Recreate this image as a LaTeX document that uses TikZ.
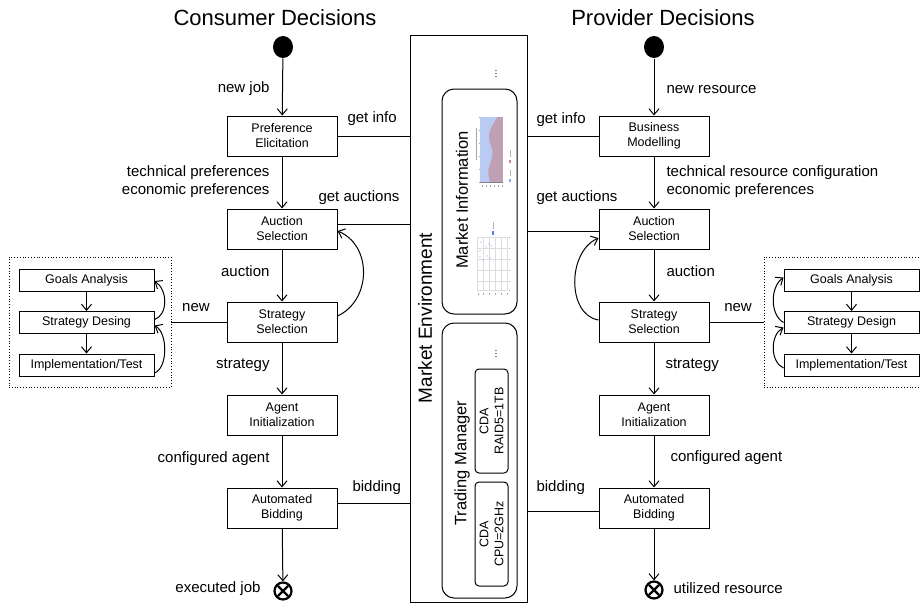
\documentclass[tikz,border=0pt]{standalone}
\usepackage{fontspec}
\setmainfont{Liberation Sans}
\usetikzlibrary{arrows.meta,shapes.geometric}
\newcommand\boxfont{\fontsize{12.5}{15}\selectfont}
\newcommand\lblfont{\fontsize{15}{18}\selectfont}
\newcommand\titlefont{\fontsize{22}{26}\selectfont}
\definecolor{chartblue}{HTML}{B9CBF2}
\definecolor{chartred}{HTML}{BFA0B4}
\definecolor{chartgrid}{HTML}{DDDDDD}
\definecolor{dotblue}{HTML}{5A7BE0}
\begin{document}
\begin{tikzpicture}[x=1pt,y=-1pt,line width=1pt,
  stepbox/.style={draw,minimum width=110pt,minimum height=40pt,align=center,font=\boxfont,inner sep=0pt},
  subbox/.style={draw,minimum width=135pt,minimum height=22pt,font=\boxfont,inner sep=0pt},
  frame/.style={draw,dotted,line width=0.8pt,inner sep=0pt},
  lbl/.style={font=\lblfont,inner sep=0pt},
  arr/.style={-{Straight Barb[length=6pt,width=10pt]}},
  startdot/.style={fill=black,ellipse,minimum width=20pt,minimum height=22pt,inner sep=0pt},
  enddot/.style={draw,circle,line width=2.2pt,minimum size=17pt,inner sep=0pt,
    append after command={(\tikzlastnode.north west) edge[line width=2.2pt,shorten <=2.5pt,shorten >=2.5pt] (\tikzlastnode.south east)
      (\tikzlastnode.north east) edge[line width=2.2pt,shorten <=2.5pt,shorten >=2.5pt] (\tikzlastnode.south west)}},
  rbox/.style={draw,rounded corners=12pt,inner sep=0pt},
  cdabox/.style={draw,rounded corners=4pt,minimum width=33pt,minimum height=104pt,inner sep=0pt},
]
\useasboundingbox (0,0) rectangle (920,608);

% titles
\node[font=\titlefont] (tcons) at (275,18) {Consumer Decisions};
\node[font=\titlefont] (tprov) at (663,18) {Provider Decisions};

% ---------- market environment ----------
\node[draw,minimum width=117pt,minimum height=567pt,inner sep=0pt] (env) at (468.5,318.5) {};
\node[rotate=90,font=\fontsize{19}{22}\selectfont] (envl) at (425,318) {Market Environment};

\node[rbox,minimum width=75pt,minimum height=225pt] (mi) at (479.5,201.5) {};
\node[rotate=90,font=\fontsize{16.5}{20}\selectfont] (mil) at (462,200) {Market Information};
\node[rotate=90,font=\fontsize{10}{12}\selectfont] (mid) at (496,74) {...};

\node[rbox,minimum width=75pt,minimum height=275pt] (tm) at (479.5,460.5) {};
\node[rotate=90,font=\fontsize{16.5}{20}\selectfont] (tml) at (462,463) {Trading Manager};
\node[rotate=90,font=\fontsize{10}{12}\selectfont] (tmd) at (496,354) {...};
\node[cdabox] (cda1) at (491.5,421) {};
\node[rotate=90,align=center,font=\boxfont] (cda1l) at (491.5,421) {CDA\\RAID5=1TB};
\node[cdabox] (cda2) at (491.5,534) {};
\node[rotate=90,align=center,font=\boxfont] (cda2l) at (491.5,534) {CDA\\CPU=2GHz};

% small price chart (area)
\fill[chartred] (480,117) rectangle (503,182);
\fill[chartblue] (480,117) -- (497,117) .. controls (493,125) and (488,130) .. (489,138)
  .. controls (490,146) and (494,150) .. (492,157) .. controls (490,165) and (486,170) .. (490,182) -- (480,182) -- cycle;
\draw[gray,line width=0.3pt] (480,182) -- (503,182);
\foreach \yy in {117,130,143,156,169,182} \draw[gray!70,line width=0.3pt] (478.5,\yy) -- (479.5,\yy);
\foreach \xx in {482,486,490,494,498,502} \draw[gray!70,line width=0.4pt] (\xx,185) -- (\xx,187);
\draw[gray!70,line width=0.4pt] (476,128) -- (476,160);
\fill[chartred!80!red] (509,160) rectangle (511,163);
\draw[gray!60,line width=0.3pt] (510,150) -- (510,157);
\fill[dotblue!70] (509,179) rectangle (511,182);
\draw[gray!60,line width=0.3pt] (510,170) -- (510,176);

% small scatter chart
\foreach \xx in {477,483,489,495,501,507} \draw[chartgrid,line width=0.3pt] (\xx,237) -- (\xx,290);
\foreach \yy in {237,248,259,270,281,290} \draw[chartgrid,line width=0.3pt] (477,\yy) -- (507,\yy);
\foreach \yy in {237,248,259,270,281,290} \draw[gray!70,line width=0.4pt] (509,\yy) -- (510,\yy);
\foreach \xx in {478,483,489,495,501,507} \draw[gray!70,line width=0.4pt] (\xx,293) -- (\xx,295);
\fill[dotblue] (492,231) rectangle (494,235);
\draw[gray!60,line width=0.3pt] (493,222) -- (493,229);
\foreach \px/\py in {481/242, 480/251, 486/247, 489/244, 491/246, 487/256, 483/260, 490/258, 480/257} \fill[dotblue!80] (\px,\py) circle (0.6pt);

% ---------- consumer side ----------
\node[startdot] (cs) at (283,47) {};
\node[stepbox] (pe) at (282,136) {Preference\\Elicitation};
\node[stepbox] (as) at (282,229) {Auction\\Selection};
\node[stepbox] (ss) at (282,322) {Strategy\\Selection};
\node[stepbox] (ai) at (282,415) {Agent\\Initialization};
\node[stepbox] (ab) at (282,508) {Automated\\Bidding};
\node[enddot] (ce) at (283,591) {};

\draw[arr] (cs) -- (pe);
\draw[arr] (pe) -- (as);
\draw[arr] (as) -- (ss);
\draw[arr] (ss) -- (ai);
\draw[arr] (ai) -- (ab);
\draw[arr] (ab) -- (ce);
\draw[arr] ([yshift=6pt]ss.east) .. controls (372,300) and (372,245) .. ([yshift=-2pt]as.east);

\node[lbl,anchor=east] (l1) at (270,89) {new job};
\node[lbl,anchor=east,align=right] (l2) at (270,182) {technical preferences\\economic preferences};
\node[lbl,anchor=east] (l3) at (270,271) {auction};
\node[lbl,anchor=east] (l4) at (270,365) {strategy};
\node[lbl,anchor=east] (l5) at (270,459) {configured agent};
\node[lbl,anchor=east] (l6) at (261,589) {executed job};

\draw (pe.east) -- (pe.east -| env.west);
\draw ([yshift=5pt]as.east) -- ([yshift=5pt]as.east -| env.west);
\draw ([yshift=5pt]ab.east) -- ([yshift=5pt]ab.east -| env.west);
\node[lbl,anchor=west] (g1) at (347,119) {get info};
\node[lbl,anchor=west] (g2) at (318,198) {get auctions};
\node[lbl,anchor=west] (g3) at (352,488) {bidding};

% consumer strategy design sub-process
\node[frame,minimum width=162pt,minimum height=130pt] (lfr) at (90,322) {};
\node[subbox] (ga) at (86.5,280) {Goals Analysis};
\node[subbox] (sd) at (86.5,322.5) {Strategy Desing};
\node[subbox] (it) at (86.5,365) {Implementation/Test};
\draw[arr] (ga) -- (sd);
\draw[arr] (sd) -- (it);
\draw[arr] ([yshift=3pt]sd.east) .. controls (168,315) and (168,290) .. ([yshift=-1pt]ga.east);
\draw[arr] ([yshift=-8pt]it.east) .. controls (168,368) and (168,333) .. ([yshift=-3pt]sd.east);
\draw (ss.west) -- (ss.west -| lfr.east);
\node[lbl] (n1) at (196,308) {new};

% ---------- provider side ----------
\node[startdot] (ps) at (654,47) {};
\node[stepbox] (bm) at (654,136) {Business\\Modelling};
\node[stepbox] (as2) at (654,229) {Auction\\Selection};
\node[stepbox] (ss2) at (654,322) {Strategy\\Selection};
\node[stepbox] (ai2) at (654,415) {Agent\\Initialization};
\node[stepbox] (ab2) at (654,508) {Automated\\Bidding};
\node[enddot] (pend) at (654,590) {};

\draw[arr] (ps) -- (bm);
\draw[arr] (bm) -- (as2);
\draw[arr] (as2) -- (ss2);
\draw[arr] (ss2) -- (ai2);
\draw[arr] (ai2) -- (ab2);
\draw[arr] (ab2) -- (pend);
\draw[arr] ([yshift=2pt]ss2.west) .. controls (567,315) and (567,252) .. ([yshift=-9pt]as2.west);

\node[lbl,anchor=west] (r1) at (666,90) {new resource};
\node[lbl,anchor=west,align=left] (r2) at (666,182) {technical resource configuration\\economic preferences};
\node[lbl,anchor=west] (r3) at (666,271) {auction};
\node[lbl,anchor=west] (r4) at (665,365) {strategy};
\node[lbl,anchor=west] (r5) at (670,458) {configured agent};
\node[lbl,anchor=west] (r6) at (673,588) {utilized resource};

\draw (bm.west) -- (bm.west -| env.east);
\draw ([yshift=-2pt]as2.west) -- ([yshift=-2pt]as2.west -| env.east);
\draw ([yshift=-3pt]ab2.west) -- ([yshift=-3pt]ab2.west -| env.east);
\node[lbl,anchor=west] (h1) at (536,120) {get info};
\node[lbl,anchor=west] (h2) at (536,198) {get auctions};
\node[lbl,anchor=west] (h3) at (536,488) {bidding};

% provider strategy design sub-process (frame runs past the right page edge)
\node[frame,minimum width=162pt,minimum height=130pt] (rfr) at (845,322) {};
\node[subbox] (ga2) at (851.5,280.5) {Goals Analysis};
\node[subbox] (sd2) at (851.5,322.5) {Strategy Design};
\node[subbox] (it2) at (851.5,365) {Implementation/Test};
\draw[arr] (ga2) -- (sd2);
\draw[arr] (sd2) -- (it2);
\draw[arr] ([yshift=0pt]sd2.west) .. controls (770,315) and (770,287) .. ([yshift=3pt]ga2.west);
\draw[arr] ([yshift=-3pt]it2.west) .. controls (770,362) and (770,335) .. ([yshift=-5pt]sd2.west);
\draw (ss2.east) -- (ss2.east -| rfr.west);
\node[lbl] (n2) at (738,308) {new};

\end{tikzpicture}
\end{document}
